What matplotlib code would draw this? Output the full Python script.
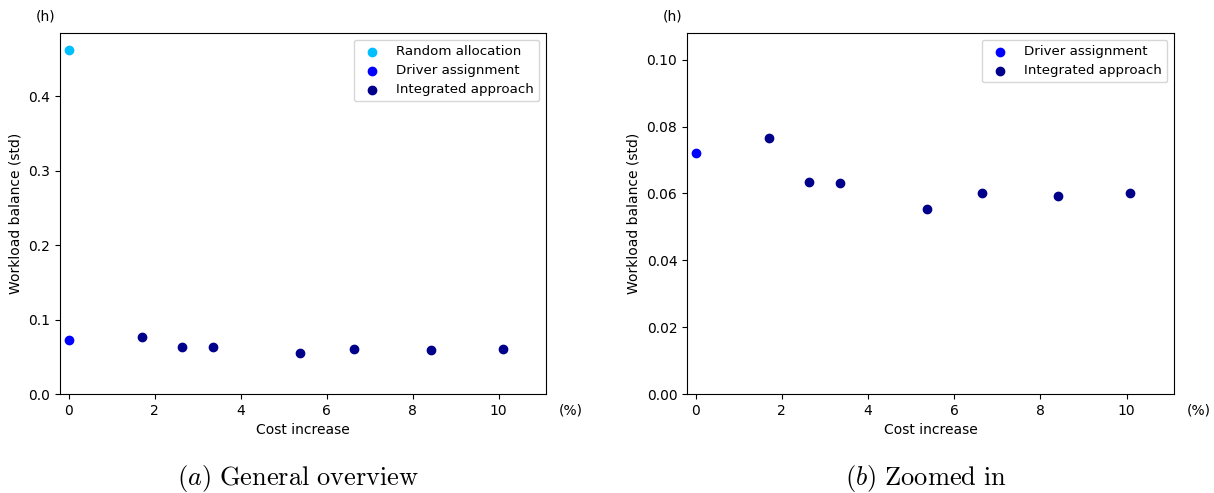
"""Workload balance vs. cost increase: overview and zoomed-in panels.
"""

import numpy as np
import matplotlib
matplotlib.use("Agg")
import matplotlib.pyplot as plt

plt.rcParams["mathtext.fontset"] = "cm"

# data
random_cost = [0.0]
random_std = [0.462]

driver_cost = [0.0]
driver_std = [0.0721]

integrated_cost = [1.71, 2.64, 3.36, 5.38, 6.64, 8.42, 10.09]
integrated_std = [0.0766, 0.0635, 0.0631, 0.0553, 0.0600, 0.0593, 0.0600]

captions = [r"$\mathit{(a)}\ \mathrm{General\ overview}$",
            r"$\mathit{(b)}\ \mathrm{Zoomed\ in}$"]


def draw_panel(ax, with_random, ylim, yticks, caption):
    """Scatter the series into one axes and decorate it."""
    if with_random:
        ax.scatter(random_cost, random_std, color="deepskyblue",
                   label="Random allocation")
    ax.scatter(driver_cost, driver_std, color="blue",
               label="Driver assignment")
    ax.scatter(integrated_cost, integrated_std, color="darkblue",
               label="Integrated approach")

    ax.set_xlim(-0.2, 11.1)
    ax.set_ylim(*ylim)
    ax.set_yticks(yticks)
    ax.set_xticks([0, 2, 4, 6, 8, 10])
    ax.set_xlabel("Cost increase")
    ax.set_ylabel("Workload balance (std)")
    ax.legend(loc="upper right", fontsize=9.6, labelspacing=0.45)

    ax.text(-0.03, 1.045, "(h)", transform=ax.transAxes, ha="center",
            va="center", fontsize=10)
    ax.text(1.05, -0.045, "(%)", transform=ax.transAxes, ha="center",
            va="center", fontsize=10)
    ax.text(0.49, -0.233, caption, transform=ax.transAxes, ha="center",
            va="center", fontsize=19)


fig = plt.figure(figsize=(12.14, 4.93), dpi=100)
ax1 = fig.add_axes([60 / 1214, 1 - 394 / 493, 486 / 1214, 361 / 493])
ax2 = fig.add_axes([687 / 1214, 1 - 394 / 493, 487 / 1214, 361 / 493])

draw_panel(ax1, True, (0, 0.485), [0.0, 0.1, 0.2, 0.3, 0.4], captions[0])
draw_panel(ax2, False, (0, 0.108), np.arange(0, 0.101, 0.02), captions[1])
ax2.set_yticklabels([f"{v:.2f}" for v in np.arange(0, 0.101, 0.02)])

fig.savefig("out.png", dpi=100)
